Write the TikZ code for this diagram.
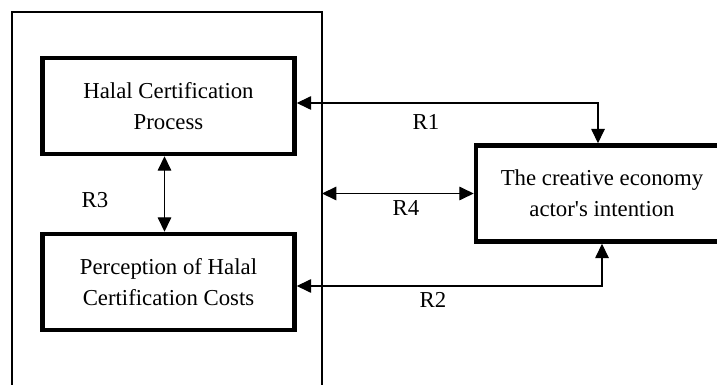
\documentclass[tikz,border=0pt]{standalone}
\usepackage{fontspec}
\setmainfont{Liberation Serif}
\usetikzlibrary{arrows.meta}
\usetikzlibrary{positioning}
\tikzset{
	rectnode/.style={rectangle, draw=black, line width=3.2pt, minimum width=6.3cm, minimum height=2.4cm, align=center, inner sep=0pt},
	framestyle/.style={line width=1.6pt},
	relarrow/.style={line width=0.8pt, {Triangle[length=0.36cm,width=0.34cm]}-{Triangle[length=0.36cm,width=0.34cm]}},
	rlabel/.style={inner sep=0pt}
}
\begin{document}
\begin{tikzpicture}[x=0.025cm, y=-0.025cm, font=\fontsize{16.2}{22}\selectfont]
	\useasboundingbox (0,0) rectangle (717,385);
	% outer frame, open at the bottom
	\coordinate (fTL) at (12,12);
	\coordinate (fTR) at (322,12);
	\draw[framestyle] (12,400) -- (fTL) -- (fTR) -- (322,400);
	
	\node[rectnode] at (168.5,106) (proc)   {Halal Certification\\Process};
	\node[rectnode] at (168.5,282) (cost)   {Perception of Halal\\Certification Costs};
	\node[rectnode] at (602,193.5) (intent) {The creative economy\\actor\textquotesingle s intention};
	
	\draw[relarrow] ([xshift=-0.1cm]proc.south) -- ([xshift=-0.1cm]cost.north);
	\draw[relarrow] ([xshift=-0.1cm]intent.north) |- ([yshift=0.075cm]proc.east);
	\draw[relarrow] ([yshift=-0.1cm]cost.east) -| (intent.south);
	\draw[relarrow] (intent.west -| fTR) -- (intent.west);
	
	\node[rlabel] at (95,200) (R3) {R3};
	\node[rlabel] at (426,122) (R1) {R1};
	\node[rlabel] at (406,208) (R4) {R4};
	\node[rlabel] at (433,300) (R2) {R2};
\end{tikzpicture}
\end{document}
